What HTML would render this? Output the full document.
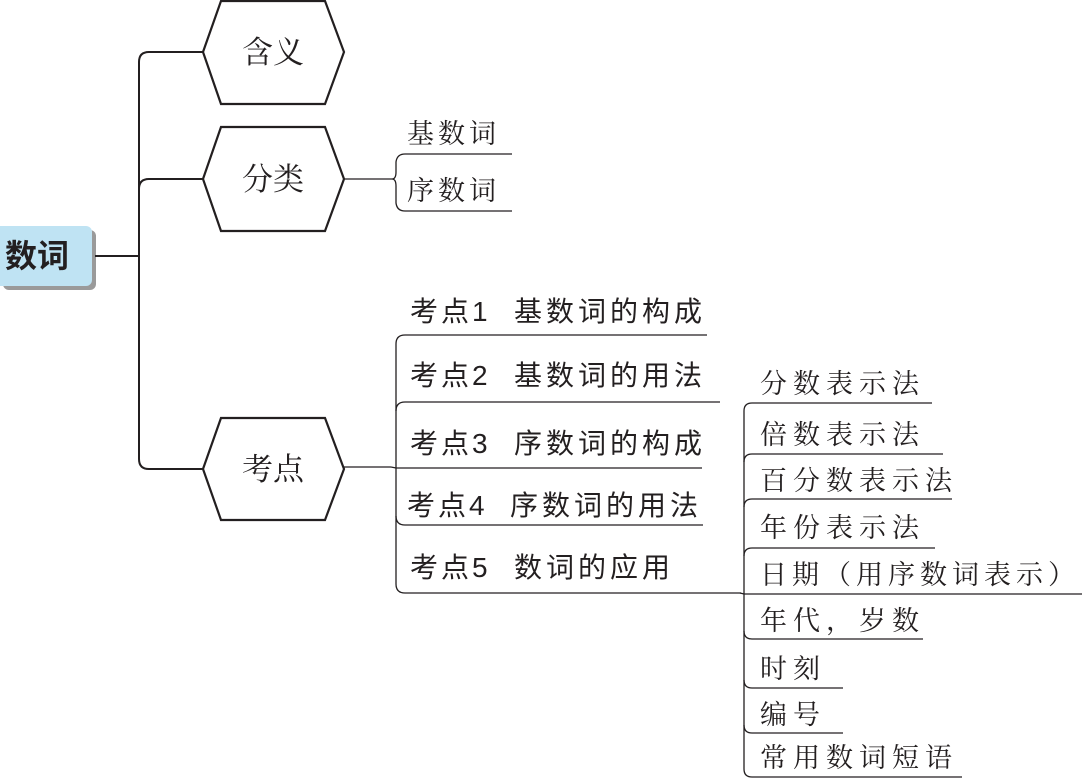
<!DOCTYPE html>
<html><head><meta charset="utf-8"><style>
html,body{margin:0;padding:0;background:#fff;}
svg{display:block;}
.s{font-family:"Liberation Sans","Noto Sans CJK SC",sans-serif;fill:#231f20;}
.k{font-family:"Liberation Serif","Noto Serif CJK SC",serif;fill:#231f20;}
</style></head><body>
<svg width="1082" height="779" viewBox="0 0 1082 779" xmlns="http://www.w3.org/2000/svg">
<g fill="none" stroke="#231f20" stroke-width="2">
<rect x="3" y="230" width="93" height="60" rx="6" fill="#9a9a9a" stroke="none"/>
<rect x="-6" y="226" width="98" height="60" rx="6" fill="#bfe3f3" stroke="none"/>
<path d="M95 256 H139"/>
<path d="M139 459 V62 Q139 52 149 52 H203"/>
<path d="M139 189 Q139 179 149 179 H203"/>
<path d="M139 459 Q139 469 149 469 H203"/>
<polygon points="203,52 221,1 325,1 344,52 325,104 221,104" stroke-width="2.2"/>
<polygon points="203,179 221,127 325,127 344,179 325,231 221,231" stroke-width="2.2"/>
<polygon points="203,469 221,418 325,418 344,469 325,520 221,520" stroke-width="2.2"/>
</g>
<g fill="none" stroke="#231f20" stroke-width="1.3">
<path d="M344 179 H392"/>
<path d="M512 154 H405 Q397 154 396 162 V172 Q396 179 392 179 Q396 179 396 186 V203 Q397 211 405 211 H512"/>
<path d="M344 467 H391"/>
<path d="M707 335 H405 Q396 335 396 344 V584 Q396 593 405 593 H741"/>
<path d="M720 402 H405 Q396 402 396 411"/>
<path d="M702 468 H396 Q396 468 391 467"/>
<path d="M703 525 H405 Q396 525 396 516"/>
<path d="M932 403 H752 Q744 403 744 411 V769 Q744 777 752 777 H962"/>
<path d="M943 454 H752 Q744 454 744 462"/>
<path d="M952 499 H752 Q744 499 744 507"/>
<path d="M935 548 H752 Q744 548 744 556"/>
<path d="M1082 594 H744 Q744 594 740 593"/>
<path d="M923 639 H752 Q744 639 744 631"/>
<path d="M843 688 H752 Q744 688 744 680"/>
<path d="M843 733 H752 Q744 733 744 725"/>
</g>
<text x="5" y="267" class="s" font-size="32" font-weight="bold">数词</text>
<text x="273" y="63" class="k" font-size="31" text-anchor="middle">含义</text>
<text x="273" y="190" class="k" font-size="31" text-anchor="middle">分类</text>
<text x="273" y="480" class="k" font-size="31" text-anchor="middle">考点</text>
<text x="407" y="143" class="k" font-size="27" letter-spacing="4">基数词</text>
<text x="407" y="200" class="k" font-size="27" letter-spacing="4">序数词</text>
<g class="s" font-size="28">
<text x="410" y="321" letter-spacing="3">考点1</text><text x="514" y="321" letter-spacing="4">基数词的构成</text>
<text x="410" y="385" letter-spacing="3">考点2</text><text x="514" y="385" letter-spacing="4">基数词的用法</text>
<text x="410" y="453" letter-spacing="3">考点3</text><text x="514" y="453" letter-spacing="4">序数词的构成</text>
<text x="407" y="515" letter-spacing="3">考点4</text><text x="510" y="515" letter-spacing="4">序数词的用法</text>
<text x="410" y="577" letter-spacing="3">考点5</text><text x="514" y="577" letter-spacing="4">数词的应用</text>
</g>
<g class="k" font-size="27">
<text x="760" y="393" letter-spacing="6">分数表示法</text>
<text x="760" y="444" letter-spacing="6">倍数表示法</text>
<text x="760" y="490" letter-spacing="6">百分数表示法</text>
<text x="760" y="537" letter-spacing="6">年份表示法</text>
<text x="760" y="584" letter-spacing="5">日期（用序数词表示）</text>
<text x="760" y="630" letter-spacing="6">年代，岁数</text>
<text x="760" y="678" letter-spacing="6">时刻</text>
<text x="760" y="724" letter-spacing="6">编号</text>
<text x="760" y="767" letter-spacing="6">常用数词短语</text>
</g>
</svg>
</body></html>
